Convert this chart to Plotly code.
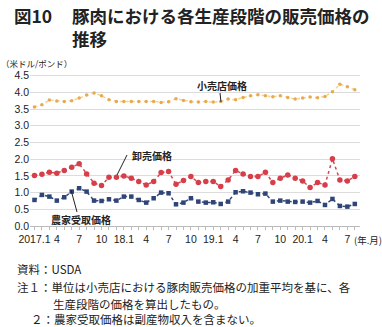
import plotly.graph_objects as go

months = ["2017.1", "", "", "4", "", "", "7", "", "", "10", "", "",
          "18.1", "", "", "4", "", "", "7", "", "", "10", "", "",
          "19.1", "", "", "4", "", "", "7", "", "", "10", "", "",
          "20.1", "", "", "4", "", "", "7", ""]

retail = [3.56, 3.63, 3.77, 3.74, 3.73, 3.75, 3.83, 3.92, 3.98, 3.90, 3.78, 3.73,
          3.73, 3.73, 3.73, 3.73, 3.73, 3.70, 3.72, 3.81, 3.76, 3.72,
          3.71, 3.73, 3.71, 3.73, 3.80, 3.78, 3.85, 3.90, 3.93, 3.90, 3.87, 3.90,
          3.85, 3.80, 3.83, 3.86, 3.84, 3.88, 4.02, 4.24, 4.17, 4.08]

wholesale = [1.51, 1.55, 1.61, 1.58, 1.66, 1.76, 1.86, 1.56, 1.28, 1.21, 1.46, 1.46,
             1.50, 1.43, 1.33, 1.23, 1.33, 1.60, 1.63, 1.25, 1.36, 1.48,
             1.30, 1.33, 1.33, 1.18, 1.38, 1.66, 1.56, 1.48, 1.48, 1.61, 1.30, 1.43,
             1.53, 1.43, 1.35, 1.15, 1.30, 1.23, 2.01, 1.38, 1.35, 1.48]

farm = [0.78, 0.93, 0.88, 0.76, 0.86, 1.03, 1.13, 1.03, 0.76, 0.75, 0.80, 0.76,
        0.88, 0.88, 0.78, 0.70, 0.83, 1.00, 0.98, 0.65, 0.70, 0.83,
        0.73, 0.70, 0.71, 0.66, 0.73, 1.01, 1.04, 1.00, 0.95, 0.97, 0.73, 0.76,
        0.73, 0.72, 0.73, 0.70, 0.75, 0.63, 0.81, 0.60, 0.58, 0.66]

y_ticks = [0.0, 0.5, 1.0, 1.5, 2.0, 2.5, 3.0, 3.5, 4.0, 4.5]

x = list(range(len(months)))
FONT = "Liberation Sans, Noto Sans CJK JP, sans-serif"
JP = "Noto Sans CJK JP, sans-serif"

W, H = 382, 327
ML, MR, MT, MB = 30, 22, 74, 101
PW, PH = W - ML - MR, H - MT - MB

fig = go.Figure()
fig.add_trace(go.Scatter(x=x, y=retail, mode="lines+markers",
                         line=dict(color="#F6D48E", width=1.5, dash="dot"),
                         marker=dict(color="#E9A94E", size=3.5), name="小売店価格"))
fig.add_trace(go.Scatter(x=x, y=wholesale, mode="lines+markers",
                         line=dict(color="#D9464F", width=1.5, dash="dot"),
                         marker=dict(color="#D63F4A", size=5.5), name="卸売価格"))
fig.add_trace(go.Scatter(x=x, y=farm, mode="lines+markers",
                         line=dict(color="#34497E", width=1.5, dash="dot"),
                         marker=dict(color="#2F4477", size=4.5, symbol="square"),
                         name="農家受取価格"))

fig.update_layout(
    width=W, height=H,
    margin=dict(l=ML, r=MR, t=MT, b=MB),
    plot_bgcolor="white", paper_bgcolor="white",
    showlegend=False,
    font=dict(family=FONT, size=10, color="#222"),
)
fig.update_xaxes(range=[-0.6, 43.7], tickmode="array", tickvals=x, ticktext=months,
                 ticks="outside", ticklen=3, tickcolor="#bbb", showgrid=False,
                 showline=True, linecolor="#bbb", linewidth=1, zeroline=False,
                 tickfont=dict(family=FONT, size=10.5, color="#222"), tickangle=0,
                 fixedrange=True)
fig.update_yaxes(range=[0, 4.55], tickmode="array", tickvals=y_ticks,
                 ticktext=[f"{v:.1f}" for v in y_ticks],
                 showgrid=True, gridcolor="#dcdcdc", gridwidth=1, zeroline=False,
                 ticks="", tickfont=dict(family=FONT, size=10.5, color="#222"),
                 fixedrange=True)

def px_x(v):
    return (v - ML) / PW

def px_y(v):
    return (H - MB - v) / PH

ann = []
def paper_text(text, xp, yp, size, bold=False, anchor="left", yanchor="middle", family=JP):
    ann.append(dict(text=f"<b>{text}</b>" if bold else text, x=px_x(xp), y=px_y(yp),
                    xref="paper", yref="paper", xanchor=anchor, yanchor=yanchor,
                    showarrow=False, align="left", borderpad=0,
                    font=dict(family=family, size=size, color="#222")))

# title
paper_text("図10", 13, 15, 17.5, bold=True)
paper_text("豚肉における各生産段階の販売価格の", 71, 15, 17.5, bold=True)
paper_text("推移", 71, 39, 17.5, bold=True)
paper_text("（米ドル/ポンド）", 0, 63, 8.5)
paper_text("(年.月)", 383, 240, 9.5, anchor="right")

# footnotes
paper_text("資料：USDA", 16, 269, 11.5)
paper_text("注１：単位は小売店における豚肉販売価格の加重平均を基に、各", 16, 287, 11.5)
paper_text("生産段階の価格を算出したもの。", 52, 304, 11.5)
paper_text("２：農家受取価格は副産物収入を含まない。", 30, 319, 11.5)

# series labels
paper_text("小売店価格", 196, 85, 10, bold=True)
paper_text("卸売価格", 131, 155, 10, bold=True)
paper_text("農家受取価格", 50, 219, 10, bold=True)

fig.update_layout(annotations=ann)

# leader lines
def leader(x0, y0, x1, y1):
    fig.add_shape(type="line", xref="paper", yref="paper",
                  x0=px_x(x0), y0=px_y(y0), x1=px_x(x1), y1=px_y(y1),
                  line=dict(color="#222", width=1))

leader(220, 93, 221, 102)
leader(127, 155, 117, 175)
leader(71, 190, 77, 212)

fig.write_html("out.html")
